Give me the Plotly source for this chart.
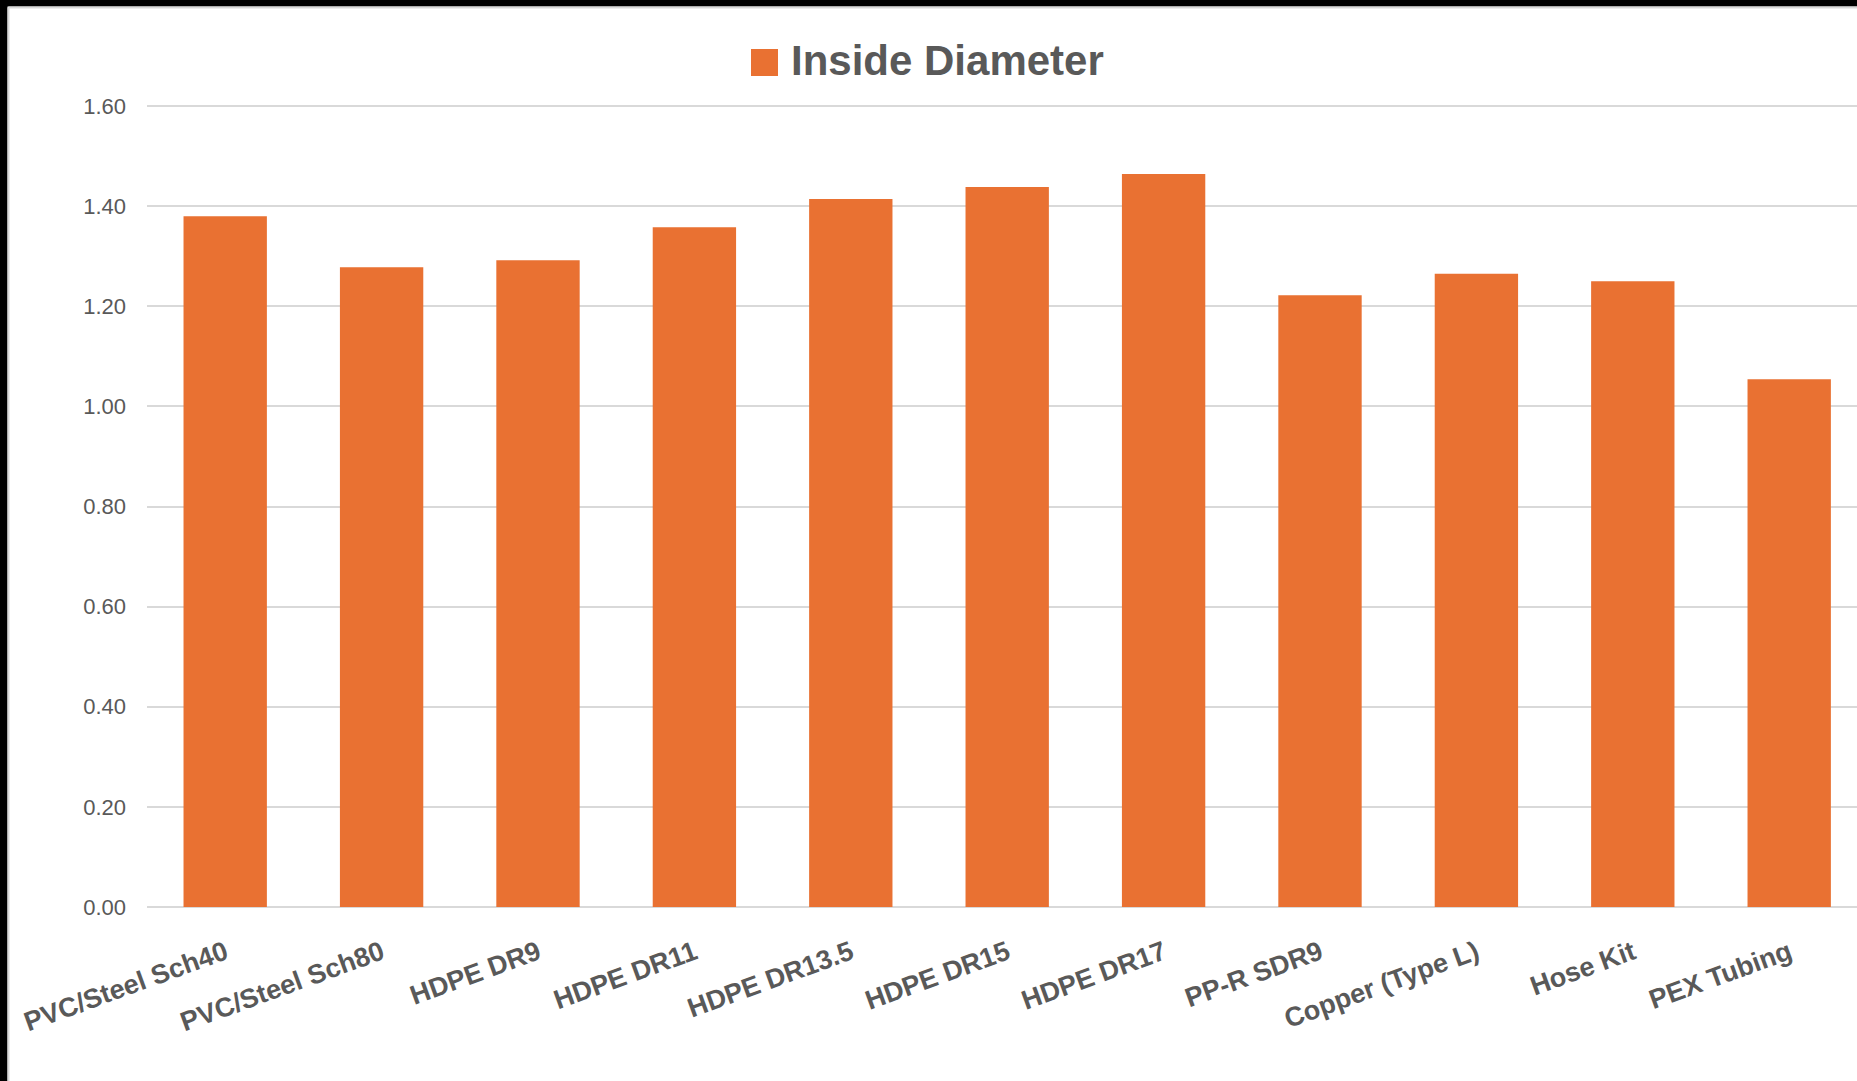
import plotly.graph_objects as go

categories = ["PVC/Steel Sch40", "PVC/Steel Sch80", "HDPE DR9", "HDPE DR11", "HDPE DR13.5",
              "HDPE DR15", "HDPE DR17", "PP-R SDR9", "Copper (Type L)", "Hose Kit", "PEX Tubing"]
inside_diameter = [1.380, 1.278, 1.292, 1.358, 1.414, 1.438, 1.464, 1.222, 1.265, 1.250, 1.054]
y_ticks = [0.0, 0.2, 0.4, 0.6, 0.8, 1.0, 1.2, 1.4, 1.6]
series_name = "Inside Diameter"

W, H = 1857, 1081
UNIT = 801 / 1.6  # pixels per unit on the value axis
L, R, T, B = 147, 0, 103, 174
PW, PH = W - L - R, H - T - B
BAR = "#E97132"
GRAY = "#595959"
GRID = "#D9D9D9"


def px_x(p):
    return (p - L) / PW


def px_y(p):
    return (H - B - p) / PH


fig = go.Figure()
fig.add_trace(go.Bar(x=categories, y=inside_diameter, name=series_name,
                     marker=dict(color=BAR, line=dict(width=0)), width=0.533,
                     showlegend=False))

cat_px = 156.4
x_end = -0.5 + PW / cat_px

fig.update_layout(
    width=W, height=H,
    margin=dict(l=L, r=R, t=T, b=B, pad=0),
    paper_bgcolor="white", plot_bgcolor="white",
    font=dict(family="Liberation Sans, Arial, sans-serif", color=GRAY),
    showlegend=False,
    xaxis=dict(range=[-0.5, x_end], tickangle=-20, showgrid=False, showline=False,
               zeroline=False, ticks="", ticklabelstandoff=24,
               tickfont=dict(size=27, color=GRAY, family="Liberation Sans, Arial, sans-serif", weight="bold")),
    yaxis=dict(range=[0, PH / UNIT], tickvals=y_ticks, tickformat=".2f", showgrid=True,
               gridcolor=GRID, gridwidth=2, zeroline=True, zerolinecolor=GRID,
               zerolinewidth=2, showline=False, ticks="", ticklabelstandoff=20,
               tickfont=dict(size=22, color=GRAY)),
)

shapes = []
# black frame from screenshot
shapes.append(dict(type="rect", xref="paper", yref="paper", x0=px_x(0), x1=px_x(7.5),
                   y0=px_y(H), y1=px_y(0), fillcolor="black", line=dict(width=0), layer="above"))
shapes.append(dict(type="rect", xref="paper", yref="paper", x0=px_x(0), x1=px_x(W),
                   y0=px_y(6.5), y1=px_y(0), fillcolor="black", line=dict(width=0), layer="above"))
# light chart border
shapes.append(dict(type="line", xref="paper", yref="paper", x0=px_x(8.5), x1=px_x(W),
                   y0=px_y(7.5), y1=px_y(7.5), line=dict(color=GRID, width=2), layer="above"))
shapes.append(dict(type="line", xref="paper", yref="paper", x0=px_x(8.5), x1=px_x(8.5),
                   y0=px_y(7.5), y1=px_y(H), line=dict(color=GRID, width=2), layer="above"))
# legend swatch
shapes.append(dict(type="rect", xref="paper", yref="paper", x0=px_x(751), x1=px_x(778),
                   y0=px_y(76), y1=px_y(49), fillcolor=BAR, line=dict(width=0), layer="above"))
fig.update_layout(shapes=shapes)

fig.add_annotation(xref="paper", yref="paper", x=px_x(789), y=px_y(61), xanchor="left",
                   yanchor="middle", showarrow=False, text="<b>" + series_name + "</b>",
                   font=dict(size=42, color=GRAY, family="Liberation Sans, Arial, sans-serif"))

fig.write_html("out.html", config={"displayModeBar": False},
               post_script="document.body.style.margin='0';document.body.style.overflow='hidden';")
